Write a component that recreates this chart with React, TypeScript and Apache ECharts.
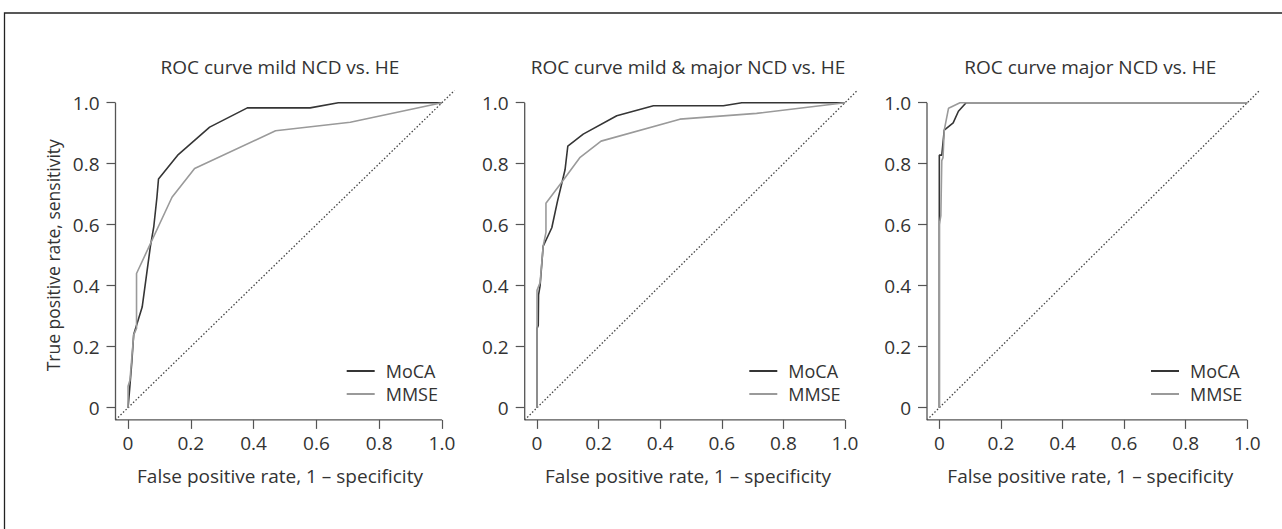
import React, { useEffect, useRef } from "react";
import * as echarts from "echarts";

// ---- data ----
const tickValues = [0, 0.2, 0.4, 0.6, 0.8, 1.0];
const tickLabels = ["0", "0.2", "0.4", "0.6", "0.8", "1.0"];
const panelTitles = [
  "ROC curve mild NCD vs. HE",
  "ROC curve mild & major NCD vs. HE",
  "ROC curve major NCD vs. HE",
];
const seriesNames = ["MoCA", "MMSE"];
const xAxisTitle = "False positive rate, 1 \u2013 specificity";
const yAxisTitle = "True positive rate, sensitivity";

const mildMoCA: number[][] = [
  [0, 0], [0.005, 0.06], [0.012, 0.15], [0.018, 0.24], [0.045, 0.33], [0.071, 0.528],
  [0.082, 0.594], [0.092, 0.69], [0.097, 0.75], [0.16, 0.83], [0.26, 0.92],
  [0.38, 0.983], [0.58, 0.983], [0.67, 1], [1, 1],
];
const mildMMSE: number[][] = [
  [0, 0], [0, 0.07], [0.006, 0.09], [0.018, 0.239], [0.027, 0.26], [0.027, 0.44],
  [0.14, 0.69], [0.212, 0.784], [0.47, 0.908], [0.708, 0.936], [1, 1],
];
const mildMajorMoCA: number[][] = [
  [0, 0], [0, 0.26], [0.004, 0.27], [0.005, 0.37], [0.01, 0.4], [0.02, 0.53],
  [0.048, 0.59], [0.066, 0.675], [0.091, 0.78], [0.1, 0.858], [0.15, 0.897],
  [0.259, 0.957], [0.378, 0.99], [0.605, 0.99], [0.665, 1], [1, 1],
];
const mildMajorMMSE: number[][] = [
  [0, 0], [0, 0.385], [0.01, 0.41], [0.02, 0.53], [0.029, 0.575], [0.029, 0.67],
  [0.085, 0.746], [0.14, 0.821], [0.208, 0.874], [0.464, 0.946], [0.713, 0.965], [1, 1],
];
const majorMoCA: number[][] = [
  [0, 0], [0, 0.828], [0.008, 0.828], [0.016, 0.91], [0.045, 0.934], [0.062, 0.972],
  [0.087, 1], [1, 1],
];
const majorMMSE: number[][] = [
  [0, 0], [0, 0.6], [0.005, 0.63], [0.008, 0.81], [0.012, 0.82], [0.016, 0.91],
  [0.03, 0.982], [0.067, 1], [1, 1],
];
const panelData = [
  [mildMoCA, mildMMSE],
  [mildMajorMoCA, mildMajorMMSE],
  [majorMoCA, majorMMSE],
];

const AXIS_MIN = -0.04;
const AXIS_MAX = 1.04;

// ---- layout / style ----
const FONT = "'Open Sans', 'Noto Sans', sans-serif";
const FS = 19;
const TEXT = "#333";
const AXIS_COLOR = "#555";
const COLORS = ["#353535", "#9a9a9a"];
const grids = [
  { left: 115.5, width: 339 },
  { left: 524.7, width: 332.6 },
  { left: 927, width: 332.6 },
];
const GRID_TOP = 90.5;
const GRID_HEIGHT = 329.4;
const legendLeft = [346.7, 749.3, 1151];
const titleShift = [-5, -3, -3];

function labelFor(v: number) {
  const i = tickValues.findIndex((t) => Math.abs(t - v) < 1e-6);
  return i >= 0 ? tickLabels[i] : "";
}

export default function App() {
  const ref = useRef<HTMLDivElement>(null);
  useEffect(() => {
    if (!ref.current) return;
    const chart = echarts.init(ref.current, undefined, { renderer: "svg" });
    const series: any[] = [];
    panelData.forEach((curves, p) => {
      curves.forEach((d, k) => {
        series.push({
          type: "line",
          name: seriesNames[k],
          xAxisIndex: p,
          yAxisIndex: p,
          data: d,
          symbol: "none",
          color: COLORS[k],
          lineStyle: { color: COLORS[k], width: 1.6 },
          z: 3 + k,
        });
      });
      series.push({
        type: "line",
        xAxisIndex: p,
        yAxisIndex: p,
        data: [[AXIS_MIN, AXIS_MIN], [AXIS_MAX, AXIS_MAX]],
        symbol: "none",
        silent: true,
        clip: false,
        lineStyle: { color: "#444", width: 1.3, type: [1.5, 2] },
        z: 2,
      });
      series.push({
        type: "line",
        xAxisIndex: p,
        yAxisIndex: p,
        data: [[AXIS_MIN, 1], [AXIS_MIN, AXIS_MIN], [1, AXIS_MIN]],
        symbol: "none",
        silent: true,
        clip: false,
        lineStyle: { color: AXIS_COLOR, width: 1.3 },
        z: 2,
      });
    });

    const option: any = {
      animation: false,
      backgroundColor: "#fff",
      textStyle: { fontFamily: FONT },
      grid: grids.map((g) => ({ left: g.left, width: g.width, top: GRID_TOP, height: GRID_HEIGHT })),
      xAxis: grids.map((_, i) => ({
        gridIndex: i,
        type: "value",
        min: AXIS_MIN,
        max: AXIS_MAX,
        axisLine: { show: false, onZero: false },
        splitLine: { show: false },
        axisTick: { show: true, length: 9, customValues: tickValues, lineStyle: { color: AXIS_COLOR, width: 1.2 } },
        axisLabel: {
          customValues: tickValues,
          formatter: (v: number) => labelFor(v),
          margin: 14,
          fontSize: FS,
          color: TEXT,
          fontFamily: FONT,
        },
        name: xAxisTitle,
        nameLocation: "middle",
        nameGap: 47,
        nameTextStyle: {
          fontSize: FS,
          color: TEXT,
          fontFamily: FONT,
          padding: [0, -2 * titleShift[i], 0, 0],
        },
      })),
      yAxis: grids.map((_, i) => ({
        gridIndex: i,
        type: "value",
        min: AXIS_MIN,
        max: AXIS_MAX,
        axisLine: { show: false, onZero: false },
        splitLine: { show: false },
        axisTick: { show: true, length: 9, customValues: tickValues, lineStyle: { color: AXIS_COLOR, width: 1.2 } },
        axisLabel: {
          customValues: tickValues,
          formatter: (v: number) => labelFor(v),
          margin: 16,
          fontSize: FS,
          color: TEXT,
          fontFamily: FONT,
        },
        name: i === 0 ? yAxisTitle : "",
        nameLocation: "middle",
        nameGap: 54,
        nameTextStyle: { fontSize: 17.5, color: TEXT, fontFamily: FONT },
      })),
      legend: grids.map((_, i) => ({
        data: seriesNames,
        orient: "vertical",
        left: legendLeft[i],
        top: 362,
        padding: 0,
        icon: "rect",
        itemWidth: 28,
        itemHeight: 2,
        itemGap: 5,
        selectedMode: false,
        textStyle: { fontSize: 18, color: TEXT, fontFamily: FONT, lineHeight: 18, padding: [0, 0, 0, 6] },
      })),
      graphic: [
        {
          type: "rect",
          shape: { x: 4.5, y: 13, width: 1400, height: 700 },
          style: { fill: "none", stroke: "#222", lineWidth: 1.3 },
          silent: true,
        },
        ...grids.map((g, i) => ({
          type: "text",
          x: g.left + g.width / 2 + titleShift[i],
          y: 67,
          style: {
            text: panelTitles[i],
            textAlign: "center",
            textVerticalAlign: "middle",
            fontSize: FS,
            fontFamily: FONT,
            fill: TEXT,
          },
          silent: true,
        })),
      ],
      series,
    };
    chart.setOption(option);
    return () => chart.dispose();
  }, []);
  return (
    <div
      ref={ref}
      style={{ position: "absolute", left: 0, top: 0, width: 1282, height: 529, background: "#fff" }}
    />
  );
}
